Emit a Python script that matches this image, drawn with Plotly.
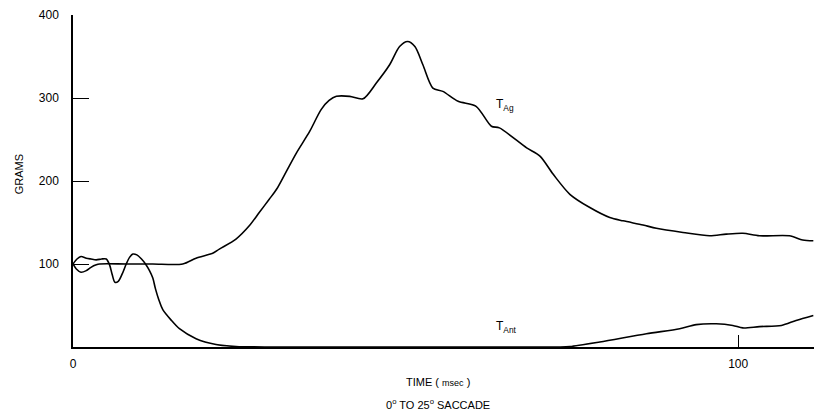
import plotly.graph_objects as go

# T_Ag (agonist tension), grams vs time (msec)
tag_x = [0, 0.5, 1.2, 2.0, 2.7, 3.5, 4.0, 8, 12, 16.5, 18.5, 21.0, 22.0, 24.5, 26.5, 28.0,
         29.5, 30.6, 32.1, 33.6, 35.6, 37.3, 38.5, 39.6, 41.6, 43.6, 45.6, 47.6, 49.1, 50.3,
         51.4, 52.6, 54.1, 55.6, 57.9, 60.6, 62.9, 64.1, 68.2, 70.2, 72.2, 74.7, 77.7, 80.7,
         82.7, 85.7, 87.7, 91.7, 95.7, 98.2, 100.7, 103.2, 107.7, 109.7, 111.3]
tag_y = [100, 94, 90, 92, 96, 99, 100, 100, 100, 100, 107, 113, 118, 130, 146, 162,
         178, 190, 212, 234, 260, 286, 297, 302, 302, 299, 318, 340, 362, 368,
         362, 340, 312, 308, 296, 290, 266, 264, 240, 230, 208, 184, 168, 156,
         152, 147, 143, 138, 134, 136, 137, 134, 134, 129, 128]

# T_Ant (antagonist tension)
tant_x = [0, 0.6, 1.2, 2.0, 2.7, 3.5, 4.3, 5.0, 5.5, 5.9, 6.3, 6.8, 7.4, 8.0, 8.5, 9.0,
          9.6, 10.3, 10.9, 11.5, 12.0, 12.4, 12.9, 13.5, 14.8, 16.0, 18.5, 21.5, 24.5, 30,
          40, 50, 60, 70, 73, 74.7, 79.2, 86.2, 91.2, 93.7, 96.7, 99.2, 100.7, 103.2, 106.5,
          108.7, 111.3]
tant_y = [100, 106, 109, 107, 106, 105, 106, 106, 99, 87, 78, 79, 88, 100, 108, 112,
          111, 106, 100, 92, 83, 70, 57, 45, 32, 22, 10, 3, 0.6, 0,
          0, 0, 0, 0, 0, 0.5, 6, 16, 22, 27, 28, 26, 23, 24.6, 26,
          32, 38]

y_ticks = [100, 200, 300, 400]
x_ticks = [0, 100]

font = "Liberation Sans, Arial, sans-serif"

fig = go.Figure()
for xs, ys in ((tag_x, tag_y), (tant_x, tant_y)):
    fig.add_trace(go.Scatter(x=xs, y=ys, mode="lines",
                             line=dict(color="black", width=1.6, shape="spline", smoothing=0.8),
                             showlegend=False, cliponaxis=False))

fig.update_layout(
    width=814, height=417,
    margin=dict(l=73, r=0, t=15, b=70),
    paper_bgcolor="white", plot_bgcolor="white",
    font=dict(family=font, size=12, color="black"),
    xaxis=dict(range=[0, 111.4], showgrid=False, zeroline=False, showline=True,
               linecolor="black", linewidth=2, ticks="inside", ticklen=12, tickwidth=1,
               tickcolor="black", tickvals=x_ticks, ticktext=[str(v) for v in x_ticks],
               ticklabelstandoff=5),
    yaxis=dict(range=[0, 400], showgrid=False, zeroline=False, showline=True,
               linecolor="black", linewidth=1.5, ticks="inside", ticklen=16, tickwidth=1,
               tickcolor="black", tickvals=y_ticks, ticktext=[str(v) for v in y_ticks],
               ticklabelstandoff=10),
    annotations=[
        dict(text="GRAMS", textangle=-90, xref="paper", yref="paper", x=-73/741, y=0.52,
             xanchor="left", yanchor="middle", xshift=11, showarrow=False,
             font=dict(size=11)),
        dict(text="TIME ( <span style='font-size:9px'>msec</span> )", xref="paper", yref="paper",
             x=(437.5 - 73) / 741, y=0, yanchor="middle", yshift=-35, showarrow=False,
             font=dict(size=11)),
        dict(text="0<sup>o</sup> TO 25<sup>o</sup> SACCADE", xref="paper", yref="paper",
             x=(437.5 - 73) / 741, y=0, yanchor="middle", yshift=-57, showarrow=False,
             font=dict(size=11)),
        dict(text="T<sub>Ag</sub>", x=64.9, y=292, showarrow=False, font=dict(size=12)),
        dict(text="T<sub>Ant</sub>", x=65.2, y=24, showarrow=False, font=dict(size=12)),
    ],
)

fig.write_html("out.html")
